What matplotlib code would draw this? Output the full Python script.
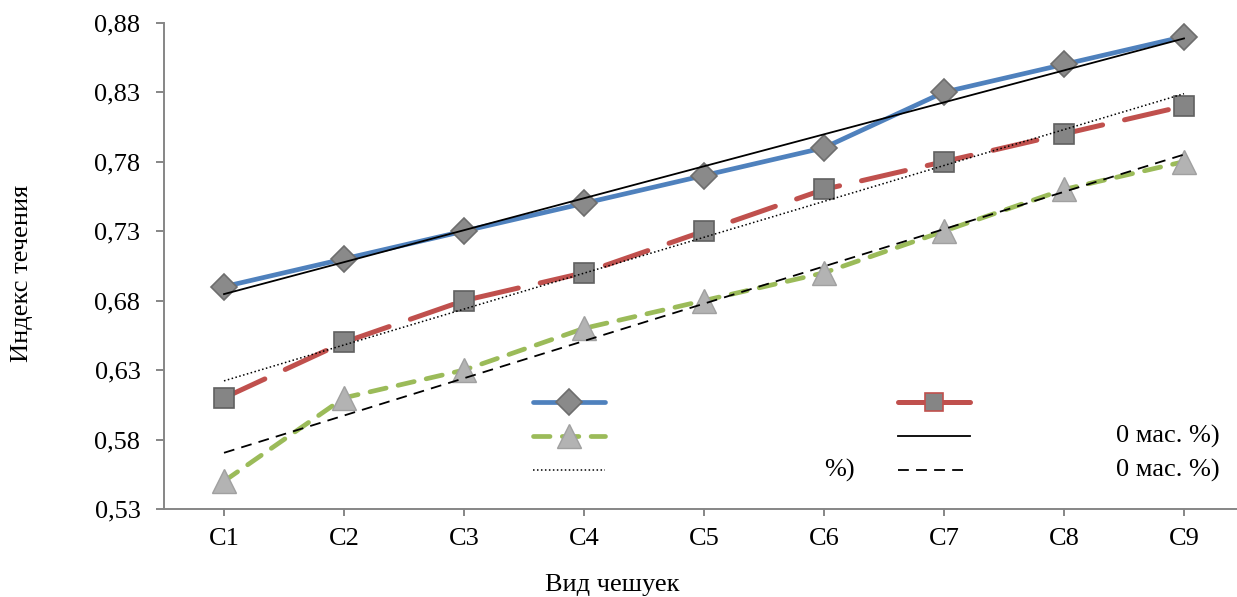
import numpy as np
import matplotlib
matplotlib.use("Agg")
import matplotlib.pyplot as plt
from matplotlib.lines import Line2D
from matplotlib.ticker import FuncFormatter

plt.rcParams["font.family"] = ["Liberation Serif", "DejaVu Serif"]

# ---- Daten ----
categories = ["C1", "C2", "C3", "C4", "C5", "C6", "C7", "C8", "C9"]
series_blue = [0.69, 0.71, 0.73, 0.75, 0.77, 0.79, 0.83, 0.85, 0.87]
series_red = [0.61, 0.65, 0.68, 0.70, 0.73, 0.76, 0.78, 0.80, 0.82]
series_green = [0.55, 0.61, 0.63, 0.66, 0.68, 0.70, 0.73, 0.76, 0.78]
y_ticks = [0.53, 0.58, 0.63, 0.68, 0.73, 0.78, 0.83, 0.88]

BLUE = "#4F81BD"
RED = "#C0504D"
GREEN = "#9BBB59"
AXIS = "#868686"
FS = 19

fig = plt.figure(figsize=(12.37, 5.97), dpi=100)
ax = fig.add_axes([164 / 1237, 1 - 509 / 597, 1080 / 1237, (509 - 22.7) / 597])

x = np.arange(len(categories))

l_blue, = ax.plot(x, series_blue, color=BLUE, lw=3.4, solid_capstyle="round",
                  marker="D", ms=13, mfc="#8a8a8a", mec="#6e6e6e", mew=1.2, zorder=3)
l_red, = ax.plot(x, series_red, color=RED, lw=3.6, dashes=(9, 4.5), dash_capstyle="round",
                 marker="s", ms=15, mfc="#858585", mec="#606060", mew=1.2, zorder=3)
l_green, = ax.plot(x, series_green, color=GREEN, lw=3.4, dashes=(3.5, 2.6), dash_capstyle="round",
                   marker="^", ms=17, mfc="#b3b3b3", mec="#a0a0a0", mew=1.0, zorder=3)

# lineare Trendlinien
trend_styles = [(series_blue, "-", None), (series_red, ":", (1, 1.6)), (series_green, "--", (6, 4))]
trend_lines = []
for ys, ls, dash in trend_styles:
    k, b = np.polyfit(x, ys, 1)
    kw = dict(color="black", lw=1.3 if ls != ":" else 1.1, zorder=4)
    if dash:
        kw["dashes"] = dash
    ln, = ax.plot(x, k * x + b, **kw)
    trend_lines.append(ln)

ax.set_xlim(-0.5, len(categories) - 0.5)
ax.set_ylim(0.53, 0.88)
ax.set_yticks(y_ticks)
ax.yaxis.set_major_formatter(FuncFormatter(lambda v, p: f"{v:.2f}".replace(".", ",")))
ax.set_xticks(x)
ax.set_xticklabels(categories)

for s in ["top", "right"]:
    ax.spines[s].set_visible(False)
for s in ["left", "bottom"]:
    ax.spines[s].set_color(AXIS)
    ax.spines[s].set_linewidth(1.4)

ax.tick_params(axis="y", colors=AXIS, labelcolor="black", labelsize=FS, length=6, width=1.4, pad=11)
ax.tick_params(axis="x", colors=AXIS, labelcolor="black", labelsize=FS, length=5, width=1.4, pad=9)

ax.set_ylabel("Индекс течения", fontsize=FS)
ax.yaxis.set_label_coords(-0.121, 0.485)
fig.text(612 / 1237, 1 - 585 / 597, "Вид чешуек", fontsize=FS, ha="center", va="center")

# Legende (Beschriftungen größtenteils verdeckt)
red_proxy = Line2D([], [], color=RED, lw=3.6, solid_capstyle="round",
                   marker="s", ms=13, mfc="#858585", mec=RED, mew=1.2)
handles = [l_blue, l_green, trend_lines[1], red_proxy, trend_lines[0], trend_lines[2]]
leg = ax.legend(handles, [""] * 6, ncol=2, loc="upper left",
                bbox_to_anchor=(533 / 1237, 1 - 393 / 597), bbox_transform=fig.transFigure,
                frameon=False, fontsize=FS, handlelength=2.73, handletextpad=0,
                columnspacing=11.1, labelspacing=0.4, borderpad=0, borderaxespad=0)

fig.text(855 / 1237, 1 - 470 / 597, "%)", fontsize=FS, ha="right", va="center")
fig.text(1220 / 1237, 1 - 436 / 597, "0 мас. %)", fontsize=FS, ha="right", va="center")
fig.text(1220 / 1237, 1 - 470 / 597, "0 мас. %)", fontsize=FS, ha="right", va="center")

fig.savefig("out.png", dpi=100)
